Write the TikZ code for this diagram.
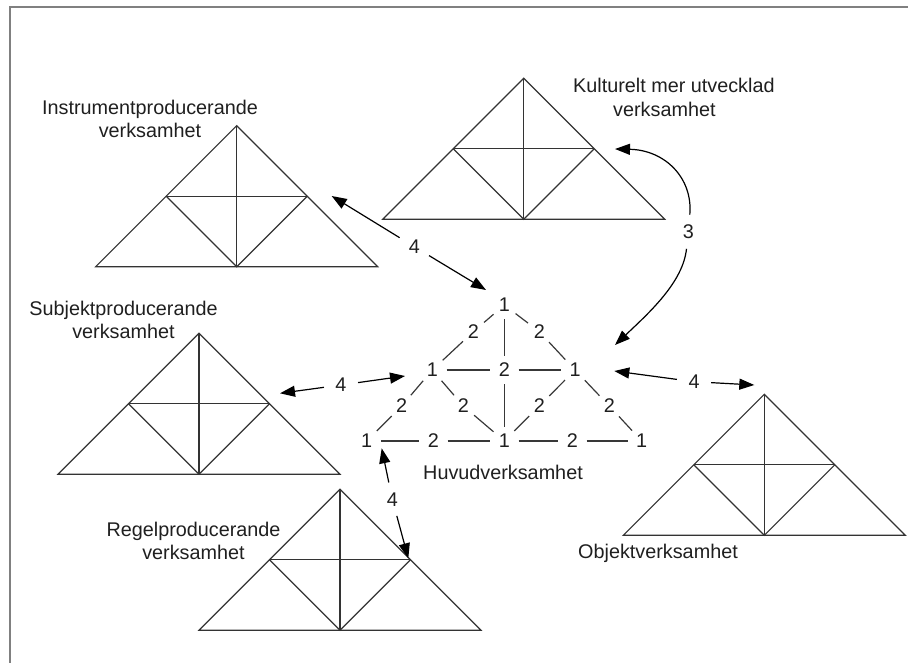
\documentclass[tikz,border=0pt]{standalone}
\usepackage{fontspec}
\setmainfont{Liberation Sans}
\usetikzlibrary{arrows.meta}

\tikzset{
  tri/.style={draw=black!80, line width=1.2pt, line join=miter},
  lbl/.style={font=\fontsize{19.8}{23.3}\selectfont, inner sep=0pt, text=black!88},
  num/.style={lbl, circle, minimum size=28pt},
  tag/.style={lbl, circle, minimum size=34pt},
  link/.style={draw=black!78, line width=1.2pt},
  arr/.style={draw=black, line width=1.2pt, -{Triangle[length=15pt,width=11pt]}},
  frameline/.style={draw=black!50, line width=2pt},
  % subdivided triangle: apex at the pic origin
  pyramid/.pic={
    \draw[tri] (-141,141) -- (0,0) -- (141,141) -- cycle;
    \draw[tri] (0,0) -- (0,141);
    \draw[tri] (-70.5,70.5) -- (70.5,70.5);
    \draw[tri] (-70.5,70.5) -- (0,141) -- (70.5,70.5);
  }
}

\begin{document}
\begin{tikzpicture}[x=1pt,y=-1pt]
\useasboundingbox (0,0) rectangle (908,663);

% frame
\draw[frameline] (10,663) -- (10,7) -- (908,7);

% the five surrounding activities
\pic at (236.7,125.7) {pyramid};
\pic at (523.7,78.3) {pyramid};
\pic at (199,333.3) {pyramid};
\pic at (340,489.3) {pyramid};
\pic at (764.3,394.3) {pyramid};

\node[lbl, align=center, anchor=north] (tInstr) at (150,99.6) {Instrumentproducerande\\verksamhet};
\node[lbl, align=left, anchor=north west] (tKult) at (573,78.3) {Kulturelt mer utvecklad\\\hspace*{40pt}verksamhet};
\node[lbl, align=center, anchor=north] (tSubj) at (123.5,300.6) {Subjektproducerande\\verksamhet};
\node[lbl, align=center, anchor=north] (tRegel) at (193.5,521.6) {Regelproducerande\\verksamhet};
\node[lbl, anchor=base] (tHuvud) at (503,479.3) {Huvudverksamhet};
\node[lbl, anchor=base] (tObj) at (658,558) {Objektverksamhet};

% central activity: vertices (1) and relations (2)
\node[num] (h1) at (504.3,305) {1};
\node[num] (h2) at (432.3,370) {1};
\node[num] (h3) at (575,370) {1};
\node[num] (h4) at (366.7,441) {1};
\node[num] (h5) at (504.3,441) {1};
\node[num] (h6) at (641.7,441) {1};

\node[num] (m0) at (504.3,370) {2};
\node[num] (m1) at (473.3,331.7) {2};
\node[num] (m2) at (539.3,331.7) {2};
\node[num] (m3) at (401.7,406) {2};
\node[num] (m4) at (463.3,406) {2};
\node[num] (m5) at (539.3,406) {2};
\node[num] (m6) at (609.3,406) {2};
\node[num] (m7) at (433.3,441) {2};
\node[num] (m8) at (572.3,441) {2};

\draw[link] (h1) -- (m1) (m1) -- (h2);
\draw[link] (h1) -- (m2) (m2) -- (h3);
\draw[link] (h1) -- (m0) (m0) -- (h5);
\draw[link] (h2) -- (m0) (m0) -- (h3);
\draw[link] (h2) -- (m3) (m3) -- (h4);
\draw[link] (h2) -- (m4) (m4) -- (h5);
\draw[link] (h3) -- (m5) (m5) -- (h5);
\draw[link] (h3) -- (m6) (m6) -- (h6);
\draw[link] (h4) -- (m7) (m7) -- (h5);
\draw[link] (h5) -- (m8) (m8) -- (h6);

% arrow ends
\coordinate (p1a) at (331.7,196);
\coordinate (p1b) at (486,290);
\coordinate (p2a) at (280,393.3);
\coordinate (p2b) at (405,376);
\coordinate (p3a) at (381.7,448.3);
\coordinate (p3b) at (408.3,558.3);
\coordinate (p4a) at (614.3,371);
\coordinate (p4b) at (754.3,385);
\coordinate (p5a) at (615,149);
\coordinate (p5b) at (615,345);

% interactions (4)
\node[tag] (f1) at (414.3,246.7) {4};
\draw[arr] (f1) -- (p1a);
\draw[arr] (f1) -- (p1b);

\node[tag] (f2) at (341,385) {4};
\draw[arr] (f2) -- (p2a);
\draw[arr] (f2) -- (p2b);

\node[tag] (f3) at (392.3,499.3) {4};
\draw[arr] (f3) -- (p3a);
\draw[arr] (f3) -- (p3b);

\node[tag] (f4) at (694,381.7) {4};
\draw[arr] (f4) -- (p4a);
\draw[arr] (f4) -- (p4b);

% development (3)
\node[tag] (f5) at (688.3,231.7) {3};
\draw[arr] (f5) .. controls (693,178) and (665,150) .. (p5a);
\draw[arr] (f5) .. controls (683,282) and (650,312) .. (p5b);

\end{tikzpicture}
\end{document}
